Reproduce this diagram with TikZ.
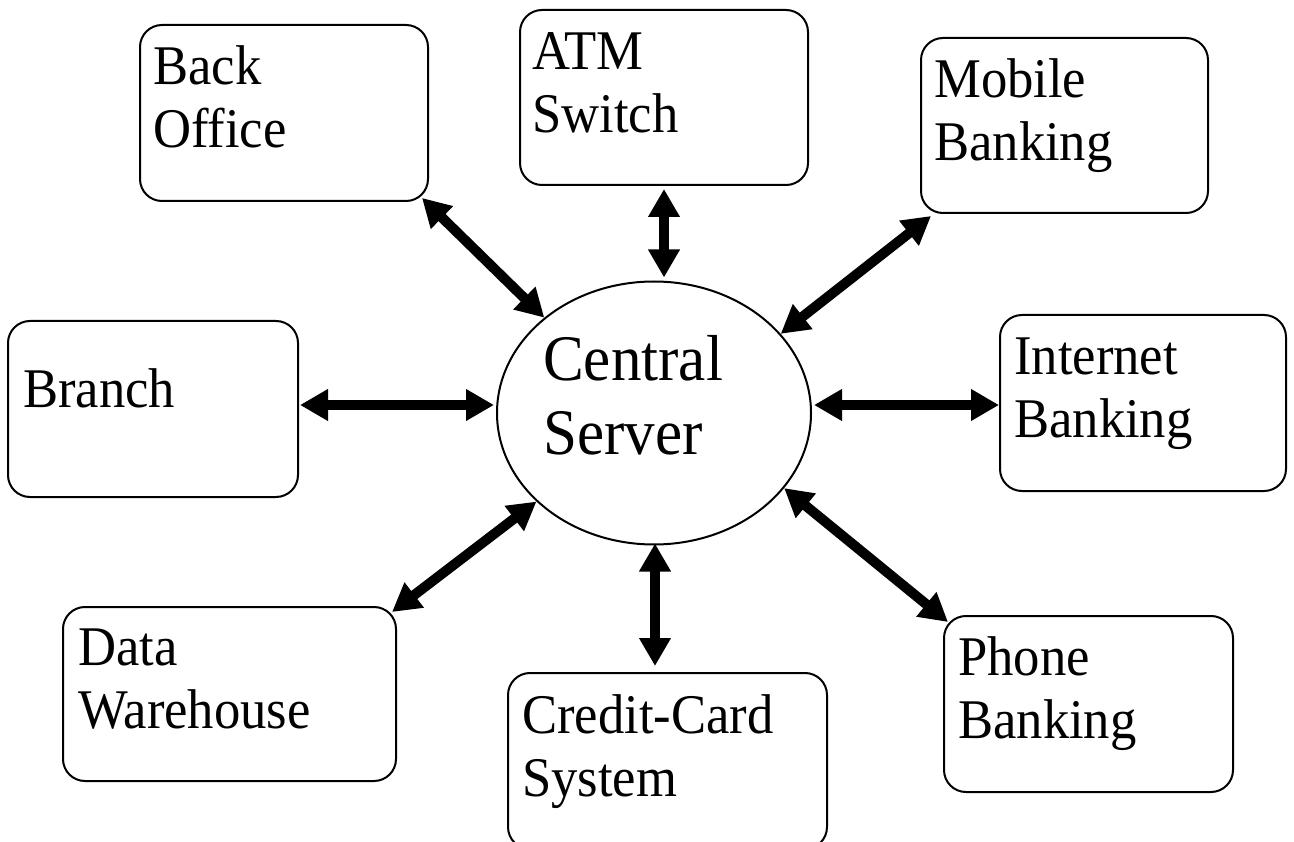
\documentclass[tikz,border=0pt]{standalone}
\usepackage{fontspec}
\setmainfont{Liberation Serif}[FakeStretch=0.94]
\usetikzlibrary{shapes.geometric,arrows.meta}
\tikzset{
  box/.style={draw, line width=2pt, rounded corners=22pt, inner sep=0pt},
  txt/.style={anchor=base west, inner sep=0pt, text width=320pt, align=left,
              font=\fontsize{56}{63}\selectfont},
  bigtxt/.style={anchor=base west, inner sep=0pt, text width=300pt, align=left,
              font=\fontsize{65}{74}\selectfont},
  hub/.style={draw, ellipse, line width=2pt, inner sep=0pt,
              minimum width=314pt, minimum height=263pt},
  link/.style={line width=10pt,
    {Triangle[length=28pt,width=30pt]}-{Triangle[length=28pt,width=30pt]}}
}
\begin{document}
\begin{tikzpicture}[x=1pt,y=-1pt]
\useasboundingbox (0,0) rectangle (1294,842);
\clip (0,0) rectangle (1294,842);
\fill[white] (0,0) rectangle (1294,842);

% boxes
\node[box, minimum width=288pt, minimum height=176pt] (bo)  at (284,113) {};
\node[box, minimum width=288pt, minimum height=175pt] (atm) at (664,97.5) {};
\node[box, minimum width=287pt, minimum height=175pt] (mob) at (1064.5,125.5) {};
\node[box, minimum width=290pt, minimum height=176pt] (br)  at (153,409) {};
\node[box, minimum width=286pt, minimum height=176pt] (ib)  at (1143,403) {};
\node[box, minimum width=333pt, minimum height=174pt] (dw)  at (229.5,694) {};
\node[box, minimum width=319pt, minimum height=176pt] (cc)  at (667.5,761) {};
\node[box, minimum width=289pt, minimum height=176pt] (pb)  at (1088.5,704) {};
\node[hub] (cs) at (654,413) {};

% texts
\node[txt] (tbo)  at (153,85)  {Back\\Office};
\node[txt] (tatm) at (532,70)  {ATM\\Switch};
\node[txt] (tmob) at (934,98)  {Mobile\\Banking};
\node[txt] (tbr)  at (23,407)  {Branch};
\node[txt] (tib)  at (1014,375) {Internet\\Banking};
\node[txt] (tdw)  at (78,665)  {Data\\Warehouse};
\node[txt] (tcc)  at (522,733) {Credit-Card\\System};
\node[txt] (tpb)  at (958,675) {Phone\\Banking};
\node[bigtxt] (tcs) at (543,381) {Central\\Server};

% connectors
\draw[link] ([shift={(-7,-4)}]bo.south east) -- (cs.139);
\draw[link] ([shift={(0,3)}]atm.south) -- ([shift={(0,-3)}]atm.south |- cs.north);
\draw[link] ([shift={(11,2)}]mob.south west) -- (cs.32);
\draw[link] ([shift={(1,-4)}]br.east) -- ([shift={(-2,-4)}]br.east -| cs.west);
\draw[link] ([shift={(2,2)}]ib.west -| cs.east) -- ([shift={(0,2)}]ib.west);
\draw[link] ([shift={(-5,6)}]dw.north east) -- (cs.217);
\draw[link] ([shift={(1,-2)}]cs.south) -- ([shift={(1,-6)}]cs.south |- cc.north);
\draw[link] (cs.-30) -- ([shift={(5,7)}]pb.north west);
\end{tikzpicture}
\end{document}
